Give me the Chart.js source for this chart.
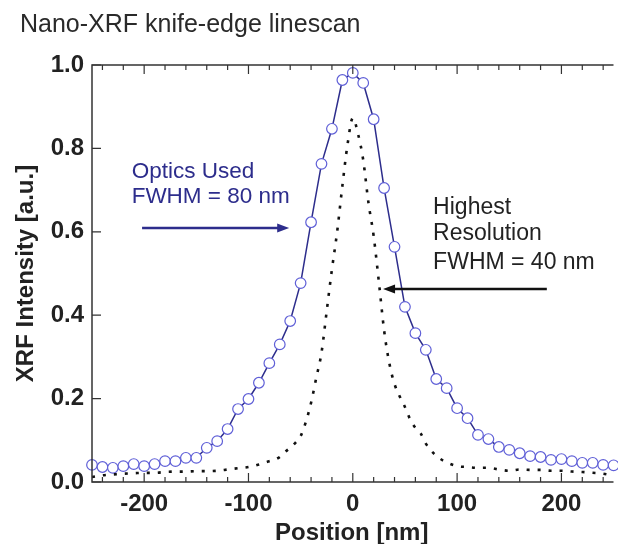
<!DOCTYPE html>
<html lang="en">
<head>
<meta charset="UTF-8">
<title>Nano-XRF knife-edge linescan</title>
<script src="https://cdn.jsdelivr.net/npm/chart.js@4.4.1/dist/chart.umd.min.js"></script>
<style>
  body { margin: 0; background: #fff; }
  canvas { display: block; }
</style>
</head>
<body>
<canvas id="myChart" width="618" height="544"></canvas>
<script>
// optics used (circles), positions in nm
const opticsPos = [-250,-240,-230,-220,-210,-200,-190,-180,-170,-160,-150,-140,-130,-120,-110,-100,-90,-80,-70,-60,-50,-40,-30,-20,-10,0,
                   10,20,30,40,50,60,70,80,90,100,110,120,130,140,150,160,170,180,190,200,210,220,230,240,250];
const opticsInt = [0.041,0.036,0.034,0.038,0.043,0.038,0.043,0.050,0.050,0.058,0.058,0.082,0.098,0.127,0.175,0.199,0.238,0.285,0.330,0.386,0.477,0.623,0.763,0.847,0.964,0.981,
                   0.957,0.870,0.705,0.564,0.420,0.357,0.317,0.247,0.225,0.177,0.153,0.113,0.103,0.084,0.077,0.069,0.062,0.060,0.053,0.055,0.050,0.046,0.046,0.041,0.040];

// highest resolution (dotted)
const hiresPos = [-250,-240,-230,-220,-210,-200,-190,-180,-170,-160,-150,-140,-130,-120,-110,-100,-90,-80,
                  -75,-70,-65,-60,-55,-50,-45,-40,-35,-30,-25,-20,-15,-10,-5,0,5,10,15,20,25,30,35,40,45,50,
                  55,60,65,70,80,90,100,110,120,130,140,150,160,170,180,190,200,210,220,230,240,250];
const hiresInt = [0.012,0.016,0.018,0.020,0.021,0.022,0.022,0.024,0.025,0.025,0.026,0.026,0.027,0.030,0.033,0.036,0.042,0.050,
                  0.053,0.060,0.072,0.082,0.094,0.110,0.144,0.190,0.250,0.310,0.410,0.510,0.600,0.710,0.810,0.873,0.835,0.772,0.670,0.590,0.480,0.364,0.285,0.235,0.205,0.180,
                  0.150,0.130,0.117,0.092,0.063,0.047,0.038,0.036,0.034,0.034,0.030,0.027,0.030,0.029,0.029,0.027,0.027,0.025,0.024,0.022,0.020,0.015];

const xTicks = [-200, -100, 0, 100, 200];
const yTicks = [0, 0.2, 0.4, 0.6, 0.8, 1.0];

const NAVY = 'rgb(45,45,140)';
const FONT = '"Liberation Sans", Arial, Helvetica, sans-serif';

// draws frame, inward ticks, title and the two annotations
const decor = {
  id: 'decor',
  afterDraw(chart) {
    const ctx = chart.ctx;
    const a = chart.chartArea;
    const xs = chart.scales.x, ys = chart.scales.y;
    ctx.save();

    ctx.fillStyle = '#2a2a2a';
    ctx.font = '25px ' + FONT;
    ctx.textAlign = 'left';
    ctx.textBaseline = 'alphabetic';
    ctx.fillText('Nano-XRF knife-edge linescan', 20, 32);

    ctx.strokeStyle = '#333';
    ctx.lineWidth = 1.5;
    ctx.beginPath();
    ctx.moveTo(a.right + 2, a.top); ctx.lineTo(a.left, a.top);
    ctx.lineTo(a.left, a.bottom); ctx.lineTo(a.right + 2, a.bottom);
    ctx.stroke();

    ctx.lineWidth = 1.2;
    ctx.beginPath();
    for (let v = -240; v <= 240; v += 20) {
      const px = xs.getPixelForValue(v);
      const len = v % 100 === 0 ? 9 : 5;
      ctx.moveTo(px, a.bottom); ctx.lineTo(px, a.bottom - len);
      ctx.moveTo(px, a.top); ctx.lineTo(px, a.top + len);
    }
    yTicks.forEach(v => {
      const py = ys.getPixelForValue(v);
      ctx.moveTo(a.left, py); ctx.lineTo(a.left + 9, py);
    });
    ctx.stroke();

    function arrow(x1, x2, y, color) {
      const p1 = xs.getPixelForValue(x1), p2 = xs.getPixelForValue(x2), py = ys.getPixelForValue(y);
      const dir = Math.sign(p2 - p1);
      ctx.strokeStyle = color; ctx.fillStyle = color; ctx.lineWidth = 2.5;
      ctx.beginPath(); ctx.moveTo(p1, py); ctx.lineTo(p2 - dir * 8, py); ctx.stroke();
      ctx.beginPath(); ctx.moveTo(p2, py); ctx.lineTo(p2 - dir * 12, py - 4.5); ctx.lineTo(p2 - dir * 12, py + 4.5); ctx.closePath(); ctx.fill();
    }

    ctx.font = '22.5px ' + FONT;
    ctx.textBaseline = 'middle';
    ctx.fillStyle = NAVY;
    ctx.fillText('Optics Used', xs.getPixelForValue(-212), ys.getPixelForValue(0.743));
    ctx.fillText('FWHM = 80 nm', xs.getPixelForValue(-212), ys.getPixelForValue(0.683));
    arrow(-202, -61, 0.609, NAVY);

    ctx.font = '23px ' + FONT;
    ctx.fillStyle = '#222';
    ctx.fillText('Highest', xs.getPixelForValue(77), ys.getPixelForValue(0.658));
    ctx.fillText('Resolution', xs.getPixelForValue(77), ys.getPixelForValue(0.595));
    ctx.fillText('FWHM = 40 nm', xs.getPixelForValue(77), ys.getPixelForValue(0.526));
    arrow(186, 29, 0.463, '#111');

    ctx.restore();
  }
};

new Chart(document.getElementById('myChart'), {
  type: 'line',
  data: {
    datasets: [{
      label: 'Optics Used',
      data: opticsPos.map((x, i) => ({ x: x, y: opticsInt[i] })),
      borderColor: NAVY,
      borderWidth: 1.5,
      pointRadius: 5.3,
      pointBorderWidth: 1.2,
      pointBorderColor: 'rgb(95,95,215)',
      pointBackgroundColor: '#fff',
      tension: 0,
      order: 2
    }, {
      label: 'Highest Resolution',
      data: hiresPos.map((x, i) => ({ x: x, y: hiresInt[i] })),
      borderColor: '#111',
      borderWidth: 2.6,
      borderDash: [3, 8],
      pointRadius: 0,
      cubicInterpolationMode: 'monotone',
      order: 1
    }]
  },
  options: {
    responsive: false,
    animation: false,
    events: [],
    clip: false,
    layout: { padding: { top: 65, right: 0, left: 0, bottom: 0 } },
    plugins: { legend: { display: false }, tooltip: { enabled: false } },
    scales: {
      x: {
        type: 'linear',
        min: -250,
        max: 248,
        afterBuildTicks: s => { s.ticks = xTicks.map(v => ({ value: v })); },
        afterFit: s => { s.height = 62; },
        grid: { display: false, drawTicks: false },
        border: { display: false },
        ticks: { color: '#222', padding: 8, maxRotation: 0, font: { family: FONT, size: 24, weight: 'bold' } },
        title: { display: true, text: 'Position [nm]', color: '#222', padding: { top: 0, bottom: -1 }, font: { family: FONT, size: 24, weight: 'bold', lineHeight: 1 } }
      },
      y: {
        min: 0,
        max: 1.0,
        afterBuildTicks: s => { s.ticks = yTicks.map(v => ({ value: v })); },
        afterFit: s => { s.width = 92; },
        grid: { display: false, drawTicks: false },
        border: { display: false },
        ticks: { color: '#222', padding: 8, callback: v => v.toFixed(1), font: { family: FONT, size: 24, weight: 'bold' } },
        title: { display: true, text: 'XRF Intensity [a.u.]', color: '#222', padding: { top: 12, bottom: 0 }, font: { family: FONT, size: 24, weight: 'bold' } }
      }
    }
  },
  plugins: [decor]
});
</script>
</body>
</html>
